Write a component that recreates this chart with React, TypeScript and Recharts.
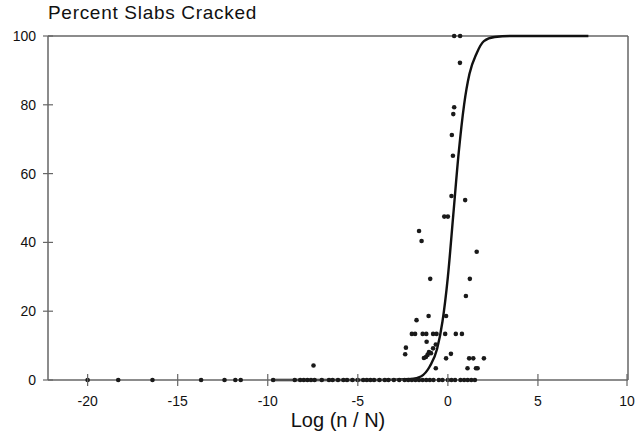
import { ComposedChart, Line, ReferenceLine, Scatter, XAxis, YAxis } from 'recharts'

// observed slabs: log(n/N) vs percent cracked
const crackedX = [
  0.35, 0.68, 0.67, 0.35, 0.3, 0.22, 0.28, 0.2, 0.96, -0.2, 0.0, -1.6, -1.46, 1.6, -0.98, 1.22, 1.0,
  -1.74, -1.07, -0.1, -2.0, -1.82, -1.4, -1.2, -0.82, -0.63, -0.15, 0.44, 0.78, -1.18, -0.67, -2.33,
  -2.37, -1.05, -0.94, -1.13, -1.22, -1.33, -0.82, 0.17, -0.1, 1.18, 1.41, 2.0, -0.67, 1.09, 1.56, 1.65,
  -7.46,
]
const crackedPct = [
  100, 100, 92.2, 79.3, 77.3, 71.2, 65.2, 53.5, 52.3, 47.5, 47.5, 43.3, 40.4, 37.3, 29.4, 29.4, 24.4,
  17.4, 18.6, 18.6, 13.4, 13.4, 13.4, 13.4, 13.4, 13.4, 13.4, 13.4, 13.4, 11.1, 10.3, 9.4,
  7.5, 8.1, 7.8, 7.3, 6.7, 6.4, 9.2, 7.6, 6.3, 6.3, 6.3, 6.3, 3.4, 3.4, 3.4, 3.4,
  4.2,
]
// slabs with no cracking
const uncrackedX = [
  -20.0, -18.3, -16.4, -13.7, -12.4, -11.8, -11.5, -9.7, -8.5, -8.2, -8.0, -7.8, -7.6, -7.4, -7.0,
  -6.6, -6.4, -6.1, -5.8, -5.6, -5.3, -5.0, -4.7, -4.5, -4.3, -4.1, -3.8, -3.5, -3.3, -3.0, -2.7,
  -2.4, -2.2, -2.0, -1.8, -1.6, -1.4, -1.2, -1.0, -0.8, -0.5, -0.3, 0.0, 0.2, 0.4, 0.7, 0.9, 1.1,
  1.3, 1.5,
]

// fitted curve
const fitX = [-9.8, -4, -2, -1.5, -1, -0.6, -0.3, 0, 0.3, 0.6, 0.9, 1.2, 1.6, 2.0, 2.6, 3.5, 7.8]
const fitPct = [0, 0, 0.3, 1, 4, 9, 17, 30, 48, 66, 80, 89, 95, 98.5, 99.7, 100, 100]

const xTicks = [-20, -15, -10, -5, 0, 5, 10]
const yTicks = [0, 20, 40, 60, 80, 100]

const points = [
  ...crackedX.map((x, i) => ({ x, y: crackedPct[i] })),
  ...uncrackedX.map((x) => ({ x, y: 0 })),
]
const fit = fitX.map((x, i) => ({ x, y: fitPct[i] }))

const axisColor = '#666'
const textColor = '#111'
const font = '"Liberation Sans", Arial, sans-serif'

const XTick = (props: any) => {
  const { x, y, payload } = props
  return (
    <g>
      <line x1={x} x2={x} y1={y - 6} y2={y + 6} stroke={axisColor} strokeWidth={1.2} />
      <text x={x} y={y + 26} textAnchor="middle" fontSize={14} fill={textColor} fontFamily={font}>
        {payload.value}
      </text>
    </g>
  )
}

const YTick = (props: any) => {
  const { x, y, payload } = props
  return (
    <g>
      <line x1={x - 5} x2={x + 5} y1={y} y2={y} stroke={axisColor} strokeWidth={1.2} />
      <text x={x - 12} y={y + 5} textAnchor="end" fontSize={14} fill={textColor} fontFamily={font}>
        {payload.value}
      </text>
    </g>
  )
}

const Dot = (props: any) => <circle cx={props.cx} cy={props.cy} r={2.3} fill="#1a1a1a" />

export default function App() {
  return (
    <div style={{ position: 'absolute', left: 0, top: 0, width: 635, height: 443, background: '#fff' }}>
      <div
        style={{
          position: 'absolute',
          left: 48,
          top: 2,
          fontFamily: font,
          fontSize: 19,
          letterSpacing: 0.7,
          color: textColor,
        }}
      >
        Percent Slabs Cracked
      </div>
      <ComposedChart width={635} height={443} margin={{ top: 36, right: 7, bottom: 0, left: 0 }}>
        <XAxis
          type="number"
          dataKey="x"
          domain={[-22.2, 10]}
          ticks={xTicks}
          allowDataOverflow
          stroke={axisColor}
          strokeWidth={1.5}
          tickSize={0}
          tickMargin={0}
          tick={<XTick />}
          height={63}
          label={{
            value: 'Log (n / N)',
            position: 'insideBottom',
            offset: 16,
            fontSize: 20,
            fill: textColor,
            fontFamily: font,
          }}
        />
        <YAxis
          type="number"
          dataKey="y"
          domain={[0, 100]}
          ticks={yTicks}
          stroke={axisColor}
          strokeWidth={1.5}
          tickSize={0}
          tickMargin={0}
          tick={<YTick />}
          width={48}
        />
        <ReferenceLine y={100} stroke={axisColor} strokeWidth={1.5} />
        <ReferenceLine x={10} stroke={axisColor} strokeWidth={1.5} />
        <Scatter data={points} shape={<Dot />} isAnimationActive={false} />
        <Line
          data={fit}
          dataKey="y"
          type="monotone"
          stroke="#111"
          strokeWidth={2.4}
          dot={false}
          isAnimationActive={false}
        />
      </ComposedChart>
    </div>
  )
}
